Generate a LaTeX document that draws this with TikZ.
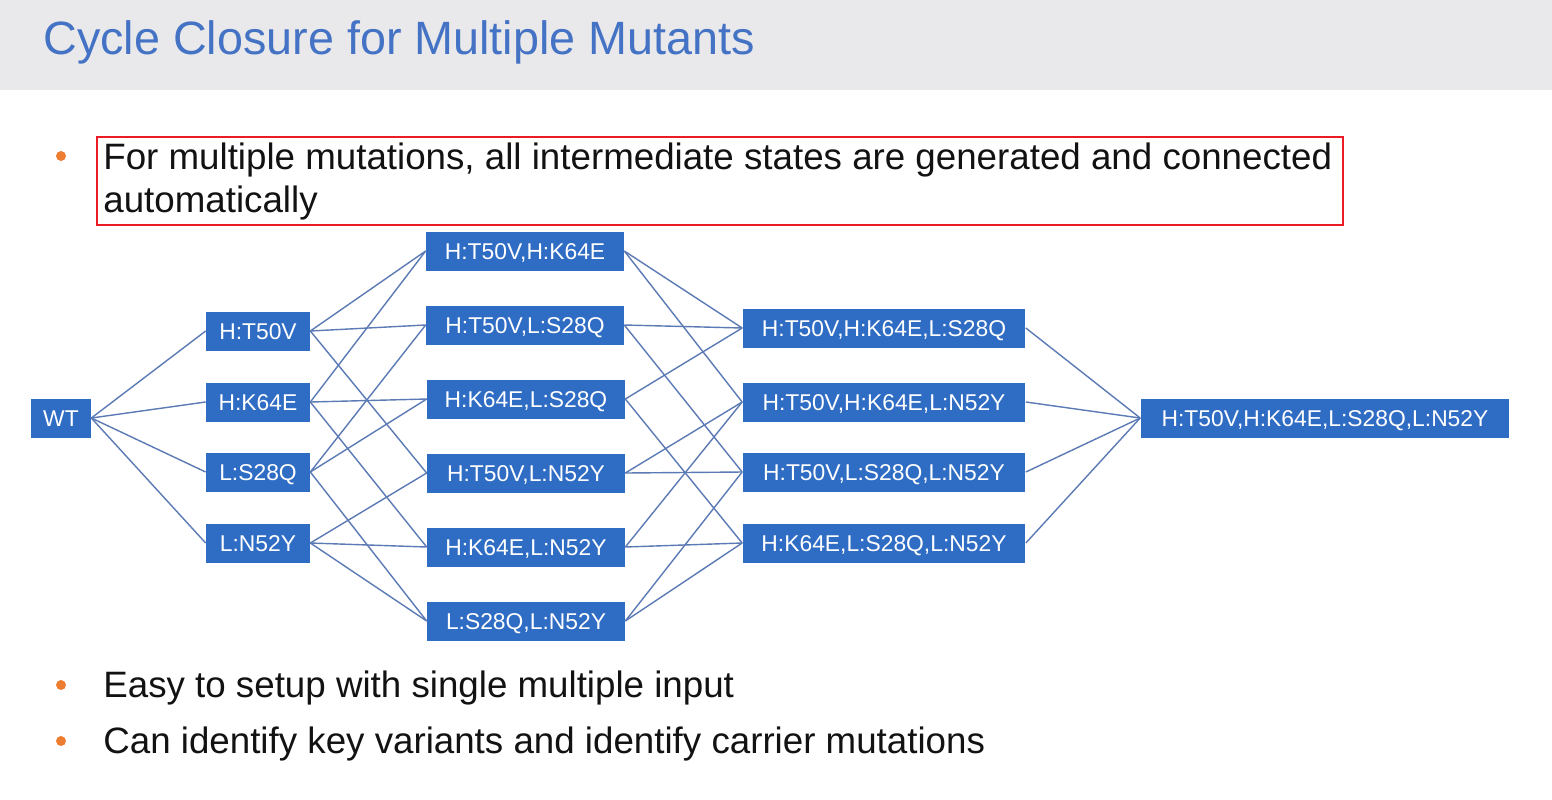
\documentclass[tikz,border=0pt]{standalone}
\usepackage{fontspec}
\setmainfont{Liberation Sans}
\usepackage{tikz}
\definecolor{headgray}{RGB}{233,233,235}
\definecolor{titleblue}{RGB}{68,114,196}
\definecolor{boxblue}{RGB}{47,108,196}
\definecolor{edgeblue}{RGB}{92,122,181}
\definecolor{markred}{RGB}{237,28,36}
\definecolor{dotorange}{RGB}{237,125,49}
\tikzset{
	mutbox/.style={fill=boxblue, text=white, inner xsep=0pt, minimum height=0.78cm,
		text height=9.3pt, text depth=0pt, font=\fontsize{13}{15.6}\selectfont},
	link/.style={draw=edgeblue, line width=0.8pt},
	bullettext/.style={anchor=base west, inner sep=0pt, text=black!93,
		font=\fontsize{20.9}{24.4}\selectfont}
}

\begin{document}
\begin{tikzpicture}[x=0.02cm, y=-0.02cm]
			%%%%% START %%%%%
			
			\useasboundingbox (0, 0) rectangle (1552, 799);
			\fill[white] (0, 0) rectangle (1552, 799);
			\fill[headgray] (0, 0) rectangle (1552, 90);
			\node[anchor=base west, inner sep=0pt, text=titleblue, font=\fontsize{26.6}{30}\selectfont] (title) at (43, 54) {Cycle Closure for Multiple Mutants};
			
			\fill[dotorange] (61, 156) circle[radius=0.1cm];
			\node[bullettext] (pointa) at (103, 169) {For multiple mutations, all intermediate states are generated and connected};
			\node[bullettext] (pointb) at (103, 212) {automatically};
			\draw[markred, line width=1.3pt] (97, 137) rectangle (1343, 225);
			
			\fill[dotorange] (61, 685) circle[radius=0.1cm];
			\node[bullettext] (pointc) at (103, 697) {Easy to setup with single multiple input};
			\fill[dotorange] (61, 741) circle[radius=0.1cm];
			\node[bullettext] (pointd) at (103, 753) {Can identify key variants and identify carrier mutations};
			
			% wild type and single mutants
			\node[mutbox, minimum width=1.2cm] (wt) at (61, 418) {WT};
			\node[mutbox, minimum width=2.08cm] (tv) at (258, 331) {H:T50V};
			\node[mutbox, minimum width=2.08cm] (ke) at (258, 402) {H:K64E};
			\node[mutbox, minimum width=2.08cm] (sq) at (258, 472) {L:S28Q};
			\node[mutbox, minimum width=2.08cm] (ny) at (258, 543) {L:N52Y};
			
			% double mutants
			\node[mutbox, minimum width=3.96cm] (tvke) at (525, 251) {H:T50V,H:K64E};
			\node[mutbox, minimum width=3.96cm] (tvsq) at (525, 325) {H:T50V,L:S28Q};
			\node[mutbox, minimum width=3.96cm] (kesq) at (526, 399) {H:K64E,L:S28Q};
			\node[mutbox, minimum width=3.96cm] (tvny) at (526, 473) {H:T50V,L:N52Y};
			\node[mutbox, minimum width=3.96cm] (keny) at (526, 547) {H:K64E,L:N52Y};
			\node[mutbox, minimum width=3.96cm] (sqny) at (526, 621) {L:S28Q,L:N52Y};
			
			% triple mutants
			\node[mutbox, minimum width=5.66cm] (tvkesq) at (884, 328) {H:T50V,H:K64E,L:S28Q};
			\node[mutbox, minimum width=5.66cm] (tvkeny) at (884, 402) {H:T50V,H:K64E,L:N52Y};
			\node[mutbox, minimum width=5.66cm] (tvsqny) at (884, 472) {H:T50V,L:S28Q,L:N52Y};
			\node[mutbox, minimum width=5.66cm] (kesqny) at (884, 543) {H:K64E,L:S28Q,L:N52Y};
			
			% quadruple mutant
			\node[mutbox, minimum width=7.38cm] (quad) at (1325, 418) {H:T50V,H:K64E,L:S28Q,L:N52Y};
			
			% links
			\draw[link] (wt.east) -- (tv.west);
			\draw[link] (wt.east) -- (ke.west);
			\draw[link] (wt.east) -- (sq.west);
			\draw[link] (wt.east) -- (ny.west);
			
			\draw[link] (tv.east) -- (tvke.west);
			\draw[link] (tv.east) -- (tvsq.west);
			\draw[link] (tv.east) -- (tvny.west);
			\draw[link] (ke.east) -- (tvke.west);
			\draw[link] (ke.east) -- (kesq.west);
			\draw[link] (ke.east) -- (keny.west);
			\draw[link] (sq.east) -- (tvsq.west);
			\draw[link] (sq.east) -- (kesq.west);
			\draw[link] (sq.east) -- (sqny.west);
			\draw[link] (ny.east) -- (tvny.west);
			\draw[link] (ny.east) -- (keny.west);
			\draw[link] (ny.east) -- (sqny.west);
			
			\draw[link] (tvke.east) -- (tvkesq.west);
			\draw[link] (tvke.east) -- (tvkeny.west);
			\draw[link] (tvsq.east) -- (tvkesq.west);
			\draw[link] (tvsq.east) -- (tvsqny.west);
			\draw[link] (kesq.east) -- (tvkesq.west);
			\draw[link] (kesq.east) -- (kesqny.west);
			\draw[link] (tvny.east) -- (tvkeny.west);
			\draw[link] (tvny.east) -- (tvsqny.west);
			\draw[link] (keny.east) -- (tvkeny.west);
			\draw[link] (keny.east) -- (kesqny.west);
			\draw[link] (sqny.east) -- (tvsqny.west);
			\draw[link] (sqny.east) -- (kesqny.west);
			
			\draw[link] (tvkesq.east) -- (quad.west);
			\draw[link] (tvkeny.east) -- (quad.west);
			\draw[link] (tvsqny.east) -- (quad.west);
			\draw[link] (kesqny.east) -- (quad.west);
			
			%%%%% END %%%%%
\end{tikzpicture}
\end{document}
